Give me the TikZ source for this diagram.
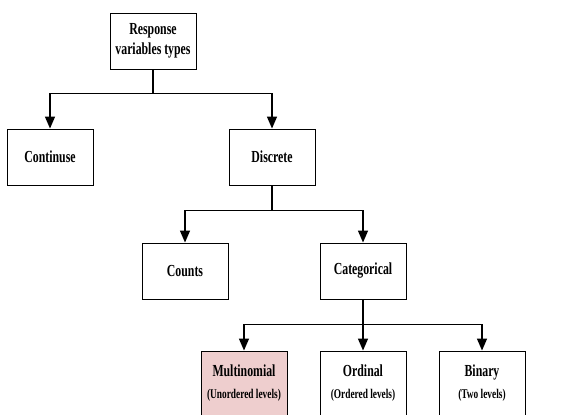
\documentclass[tikz,border=0pt]{standalone}
\usepackage{fontspec}
\setmainfont{Liberation Serif}[FakeStretch=0.7]
\usepackage{tikz}
\usetikzlibrary{positioning,arrows.meta}

\begin{document}
\begin{tikzpicture}[node distance=2.85cm]
    \tikzset{
        mynode/.style = {rectangle, line width=0.6pt, minimum width=2.15cm, minimum height=1.4cm, text centered, align=center, draw=black, fill=white, font=\bfseries\fontsize{12}{14.5}\selectfont},
        leafnode/.style = {mynode, minimum height=1.6cm},
        arrow/.style = {line width=1.2pt,-{Triangle[length=8.5pt,width=7pt]}},
        line/.style = {line width=1.2pt},
    }
    \useasboundingbox (0,0) rectangle (14.15,-10.375);
    \node (types) [mynode] at (3.825,-1.025) {Response\\variables types};
    \node (continuse) [mynode, below of=types, xshift=-2.575cm, yshift=-0.05cm] {Continuse};
    \node (discrete) [mynode, below of=types, xshift=2.975cm, yshift=-0.05cm] {Discrete};
    \node (counts) [mynode, below of=discrete, xshift=-2.175cm] {Counts};
    \node (categorical) [mynode, below of=discrete, xshift=2.275cm] {Categorical};
    \node (multinomial) [leafnode, fill={rgb,255:red,238;green,206;blue,206}, below of=categorical, xshift=-2.975cm, yshift=0.05cm] {Multinomial\\[1pt]{\fontsize{9.5}{11}\selectfont (Unordered levels)}};
    \node (ordinal) [leafnode, below of=categorical, yshift=0.05cm] {Ordinal\\[1pt]{\fontsize{9.5}{11}\selectfont (Ordered levels)}};
    \node (binary) [leafnode, below of=categorical, xshift=2.975cm, yshift=0.05cm] {Binary\\[1pt]{\fontsize{9.5}{11}\selectfont (Two levels)}};

    \coordinate[below=0.6cm of types] (split1);
    \draw [line] (types) -- (split1);
    \draw [arrow] (split1) -| (continuse);
    \draw [arrow] (split1) -| (discrete);

    \coordinate[below=0.625cm of discrete] (split2);
    \draw [line] (discrete) -- (split2);
    \draw [arrow] (split2) -| (counts);
    \draw [arrow] (split2) -| (categorical);

    \coordinate[below=0.625cm of categorical] (split3);
    \draw [line] (categorical) -- (split3);
    \draw [arrow] (split3) -| (multinomial);
    \draw [arrow] (split3) -- (ordinal);
    \draw [arrow] (split3) -| (binary);
\end{tikzpicture}
\end{document}
